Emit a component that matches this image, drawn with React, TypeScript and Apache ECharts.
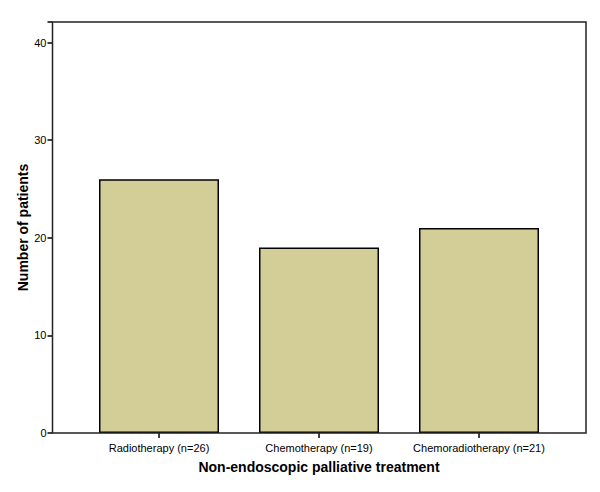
import React, { useEffect, useRef } from "react";
import * as echarts from "echarts";

const categories = ["Radiotherapy (n=26)", "Chemotherapy (n=19)", "Chemoradiotherapy (n=21)"];
const patients = [26, 19, 21];
const yTicks = [0, 10, 20, 30, 40];

export default function App() {
  const ref = useRef<HTMLDivElement>(null);
  useEffect(() => {
    const chart = echarts.init(ref.current!, null, { renderer: "svg" });
    const font = "Liberation Sans, Arial, sans-serif";
    chart.setOption({
      animation: false,
      backgroundColor: "#ffffff",
      grid: { left: 79, right: 41, top: 22, bottom: 59, containLabel: false },
      xAxis: {
        type: "category",
        data: categories,
        boundaryGap: true,
        axisLine: { show: false },
        axisTick: { show: true, alignWithLabel: true, length: 5, lineStyle: { color: "#000", width: 1.5 } },
        axisLabel: { color: "#000", fontFamily: font, fontSize: 11, margin: 9, interval: 0 },
        name: "Non-endoscopic palliative treatment",
        nameLocation: "middle",
        nameGap: 27,
        nameMoveOverlap: false,
        nameTextStyle: { color: "#000", fontFamily: font, fontSize: 14, fontWeight: "bold" },
      },
      yAxis: {
        type: "value",
        min: 0,
        max: 42.1,
        interval: 10,
        offset: 26.5,
        splitLine: { show: false },
        axisLine: { show: false },
        axisTick: { show: true, length: 5, lineStyle: { color: "#000", width: 1.5 } },
        axisLabel: {
          color: "#000",
          fontFamily: font,
          fontSize: 11,
          margin: 6,
          formatter: (v: number) => (yTicks.includes(v) ? String(v) : ""),
        },
        name: "Number of patients",
        nameLocation: "middle",
        nameGap: 23,
        nameMoveOverlap: false,
        nameTextStyle: { color: "#000", fontFamily: font, fontSize: 14, fontWeight: "bold" },
      },
      series: [
        {
          type: "bar",
          data: patients,
          barWidth: 120,
          itemStyle: { color: "#d3ce98", borderColor: "#000", borderWidth: 1.5 },
        },
      ],
      graphic: [
        {
          type: "rect",
          shape: { x: 52.5, y: 22, width: 533.5, height: 411 },
          style: { fill: "none", stroke: "#222", lineWidth: 1.5 },
          z: 100,
        },
      ],
    });
    return () => chart.dispose();
  }, []);
  return <div ref={ref} style={{ width: 600, height: 492, position: "absolute", left: 0, top: 0 }} />;
}
